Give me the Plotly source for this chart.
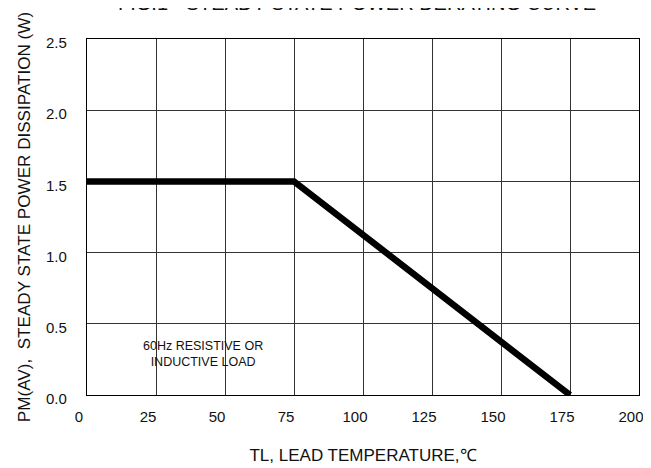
import plotly.graph_objects as go

# Data
temp_c = [0, 75, 175]
power_w = [1.5, 1.5, 0.0]
x_ticks = [0, 25, 50, 75, 100, 125, 150, 175, 200]
y_ticks = [0.0, 0.5, 1.0, 1.5, 2.0, 2.5]
y_tick_text = ["0.0", "0.5", "1.0", "1.5", "2.0", "2.5"]

title_text = "FIG.1 - STEADY STATE POWER DERATING CURVE"
x_title = "TL, LEAD TEMPERATURE,℃"
y_title = "PM(AV),  STEADY STATE POWER DISSIPATION (W)"
note_text = "60Hz RESISTIVE OR<br>INDUCTIVE LOAD"

FONT = "Liberation Sans, Arial, sans-serif"

fig = go.Figure()
fig.add_trace(go.Scatter(
    x=temp_c, y=power_w, mode="lines",
    line=dict(color="black", width=6.5),
    cliponaxis=False, showlegend=False, hoverinfo="skip",
))

# page has an 8px body margin, so the figure is sized to fit the window
fig.update_layout(
    width=643, height=460,
    margin=dict(l=79, r=12, t=31, b=73, autoexpand=False),
    paper_bgcolor="white", plot_bgcolor="white",
    font=dict(family=FONT, color="#111"),
    showlegend=False,
    annotations=[
        dict(text=title_text, xref="paper", yref="paper", x=0.49, y=1,
             yshift=36, xanchor="center", yanchor="middle", showarrow=False,
             font=dict(size=20, family=FONT, color="#111")),
        dict(text=note_text, x=42, y=0.29, xref="x", yref="y",
             showarrow=False, align="center",
             font=dict(size=12.5, family=FONT, color="#111")),
    ],
)

fig.update_xaxes(
    range=[0, 200], tickvals=x_ticks, ticktext=[str(v) for v in x_ticks],
    showgrid=True, gridcolor="#333", gridwidth=1,
    showline=True, linecolor="black", linewidth=1.2, mirror=True,
    ticks="", zeroline=False, automargin=False,
    tickfont=dict(size=15, family=FONT, color="#111"),
    ticklabelshift=-8, ticklabelstandoff=8,
    title=dict(text=x_title, font=dict(size=17, family=FONT, color="#111"), standoff=25),
)
fig.update_yaxes(
    range=[0, 2.5], tickvals=y_ticks, ticktext=y_tick_text,
    showgrid=True, gridcolor="#333", gridwidth=1,
    showline=True, linecolor="black", linewidth=1.2, mirror=True,
    ticks="", zeroline=False, automargin=False,
    tickfont=dict(size=15, family=FONT, color="#111"),
    ticklabelshift=4, ticklabelstandoff=16,
    title=dict(text=y_title, font=dict(size=17.1, family=FONT, color="#111"), standoff=11),
)

fig.write_html("out.html")
